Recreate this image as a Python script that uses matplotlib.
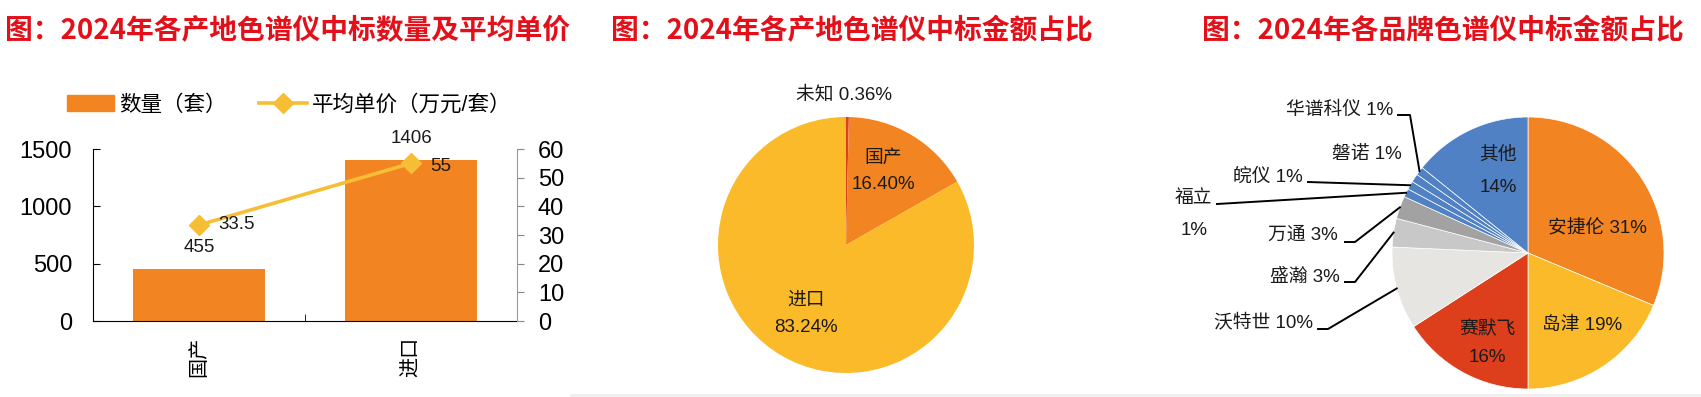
import numpy as np
import matplotlib.pyplot as plt
from matplotlib.patches import Patch, Rectangle
from matplotlib.lines import Line2D

plt.rcParams['font.family'] = ['Liberation Sans', 'Noto Sans CJK SC']

W, H = 1701, 397

# 左图：各产地中标数量及平均单价
regions = ['国产', '进口']
counts = [455, 1406]
avg_price = [33.5, 55]

# 中图：各产地中标金额占比
origin_labels = ['未知', '国产', '进口']
origin_share = [0.36, 16.40, 83.24]

# 右图：各品牌中标金额占比
brands = ['安捷伦', '岛津', '赛默飞', '沃特世', '盛瀚', '万通',
          '福立', '皖仪', '磐诺', '华谱科仪', '其他']
brand_share = [31.3, 18.7, 15.9, 9.8, 3.4, 2.7, 1.0, 1.0, 1.0, 1.0, 14.2]

red = '#E3101A'
orange = '#F28522'
yellow = '#FBBA2A'
line_yellow = '#F6BE34'
blue = '#4F81C4'
brand_colors = [orange, yellow, '#DD3F1C', '#E6E5E2', '#C8C8C8', '#A2A2A2',
                blue, blue, blue, blue, blue]
origin_colors = ['#D9441C', orange, yellow]
txt = '#1a1a1a'
pie_font = ['Liberation Sans Narrow', 'Liberation Sans', 'Noto Sans CJK SC']


def box(l, t, w, h):
    # 像素 -> figure 坐标
    return [l / W, (H - t - h) / H, w / W, h / H]


def ftext(x, y, s, **kw):
    kw.setdefault('fontsize', 13.5)
    kw.setdefault('color', txt)
    kw.setdefault('va', 'center')
    kw.setdefault('ha', 'center')
    kw.setdefault('family', pie_font)
    fig.text(x / W, 1 - y / H, s, **kw)


fig = plt.figure(figsize=(W / 100, H / 100), dpi=100)

# 底部浅灰条
fig.add_artist(Rectangle((570 / W, 0), 1 - 570 / W, 3 / H,
                         transform=fig.transFigure, color='#F0F0F0', lw=0))

# 标题
for x0, s in [(5, '图：2024年各产地色谱仪中标数量及平均单价'),
              (611, '图：2024年各产地色谱仪中标金额占比'),
              (1202, '图：2024年各品牌色谱仪中标金额占比')]:
    fig.text(x0 / W, 1 - 31 / H, s, fontsize=20, color=red, fontweight='bold',
             family=['Noto Sans CJK SC'], ha='left', va='center')

# ---------------- 左图 ----------------
ax = fig.add_axes(box(93, 149, 424, 172))
x = np.arange(len(regions))
ax.bar(x, counts, width=0.62, color=orange, zorder=2)
ax.set_xlim(-0.5, len(regions) - 0.5)
ax.set_ylim(0, 1500)
ax.set_yticks([0, 500, 1000, 1500])
ax.tick_params(axis='y', direction='in', length=5, labelsize=17, pad=15)
ax.set_xticks(x)
ax.set_xticklabels(regions, rotation=90, fontsize=14.5)
ax.set_xticks([0.5], minor=True)
ax.tick_params(axis='x', which='major', length=0, pad=11)
ax.tick_params(axis='x', which='minor', direction='in', length=5)
ax.spines['top'].set_visible(False)
ax.spines['right'].set_visible(False)
for i, v in enumerate(counts):
    ax.annotate(str(v), (x[i], v), xytext=(0, 15), textcoords='offset points',
                ha='center', va='center', fontsize=13.5, color=txt)

ax2 = ax.twinx()
ax2.plot(x, avg_price, color=line_yellow, lw=2.6, marker='D', ms=10, zorder=3)
ax2.set_ylim(0, 60)
ax2.set_yticks(range(0, 61, 10))
ax2.tick_params(axis='y', direction='out', length=5, color='#888888',
                labelsize=17, pad=10)
for sp in ['top', 'left', 'bottom']:
    ax2.spines[sp].set_visible(False)
ax2.spines['right'].set_color('#999999')
offs = [(14, 0), (14, -2)]
for i, v in enumerate(avg_price):
    ax2.annotate(f'{v:g}', (x[i], v), xytext=offs[i], textcoords='offset points',
                 ha='left', va='center', fontsize=13.5, color=txt)

handles = [Patch(color=orange, label='数量（套）'),
           Line2D([], [], color=line_yellow, lw=2.6, marker='D', ms=10,
                  label='平均单价（万元/套）')]
fig.legend(handles=handles, loc='center', bbox_to_anchor=(289 / W, 1 - 105 / H),
           ncol=2, frameon=False, fontsize=15.5, handlelength=2.2,
           handletextpad=0.25, columnspacing=1.5)

# ---------------- 中图 ----------------
cx, cy, r = 846, 245, 128
axm = fig.add_axes(box(cx - r, cy - r, 2 * r, 2 * r))
wedges, _ = axm.pie(origin_share, colors=origin_colors, startangle=90,
                    counterclock=False, radius=1)
for w in wedges:
    w.set_clip_on(False)
axm.set_xlim(-1, 1)
axm.set_ylim(-1, 1)
axm.set_aspect('auto')
axm.axis('off')

ftext(844, 95, f'{origin_labels[0]} {origin_share[0]:.2f}%')
ftext(883, 158, origin_labels[1])
ftext(883, 185, f'{origin_share[1]:.2f}%')
ftext(806, 300, origin_labels[2])
ftext(806, 327, f'{origin_share[2]:.2f}%')

# ---------------- 右图 ----------------
cx, cy, r = 1528, 253, 136
axr = fig.add_axes(box(cx - r, cy - r, 2 * r, 2 * r))
wedges, _ = axr.pie(brand_share, colors=brand_colors, startangle=90,
                    counterclock=False, radius=1,
                    wedgeprops=dict(edgecolor='white', linewidth=0.5))
for w in wedges:
    w.set_clip_on(False)
axr.set_xlim(-1, 1)
axr.set_ylim(-1, 1)
axr.set_aspect('auto')
axr.axis('off')


def to_data(px, py):
    return (px - cx) / r, (cy - py) / r


pct = [f'{v:.0f}%' for v in brand_share]

# 饼内标签
ftext(1498, 155, brands[10])
ftext(1498, 188, pct[10])
ftext(1597, 228, f'{brands[0]} {pct[0]}')
ftext(1582, 325, f'{brands[1]} {pct[1]}')
ftext(1487, 330, brands[2])
ftext(1487, 357, pct[2])

# 饼外标签及引线：(序号, 文本右端x, 文本y, 引线起点x, 起点y, 拐点x)
outside = [
    (9, 1393, 110, 1398, 115, 1410),
    (7, 1303, 177, 1308, 182, None),
    (5, 1338, 235, 1345, 242, 1355),
    (4, 1340, 277, 1345, 282, 1355),
    (3, 1313, 323, 1318, 329, 1328),
]
cum = np.cumsum([0] + brand_share)
total = cum[-1]
for i, tx, ty, lx, ly, ex in outside:
    ftext(tx, ty, f'{brands[i]} {pct[i]}', ha='right')
    mid = (cum[i] + cum[i + 1]) / 2 / total
    ang = np.pi / 2 - 2 * np.pi * mid
    pts = [to_data(lx, ly)]
    if ex is not None:
        pts.append(to_data(ex, ly))
    pts.append((np.cos(ang), np.sin(ang)))
    pts = np.array(pts)
    axr.plot(pts[:, 0], pts[:, 1], color='black', lw=1.4, clip_on=False)

# 磐诺（无引线）
ftext(1402, 155, f'{brands[8]} {pct[8]}', ha='right')
# 福立（两行 + 引线）
ftext(1193, 198, brands[6])
ftext(1194, 230, pct[6])
mid = (cum[6] + cum[7]) / 2 / total
ang = np.pi / 2 - 2 * np.pi * mid
p0 = to_data(1217, 204)
axr.plot([p0[0], np.cos(ang)], [p0[1], np.sin(ang)], color='black', lw=1.4,
         clip_on=False)

fig.savefig('out.png', dpi=100)
